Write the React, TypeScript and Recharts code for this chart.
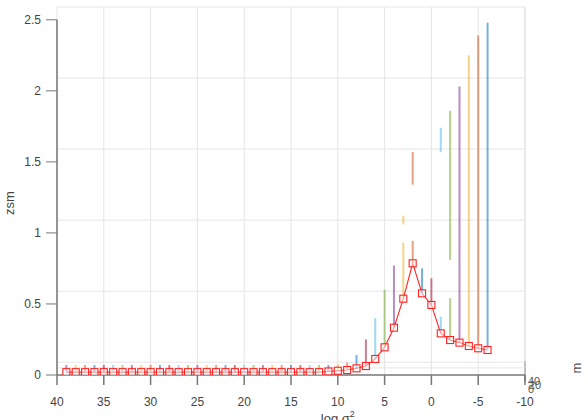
import {
  ComposedChart,
  Line,
  XAxis,
  YAxis,
  CartesianGrid,
  ReferenceLine,
  Customized,
  Label,
} from 'recharts';

// log sigma^2 positions, from 39 down to -6
const xValues = [
  39, 38, 37, 36, 35, 34, 33, 32, 31, 30, 29, 28, 27, 26, 25, 24, 23, 22, 21, 20,
  19, 18, 17, 16, 15, 14, 13, 12, 11, 10, 9, 8, 7, 6, 5, 4, 3, 2, 1, 0, -1, -2,
  -3, -4, -5, -6,
];

const zsm = [
  0.02, 0.02, 0.02, 0.02, 0.02, 0.02, 0.02, 0.02, 0.02, 0.02, 0.02, 0.02, 0.02,
  0.02, 0.02, 0.02, 0.02, 0.02, 0.02, 0.02, 0.02, 0.02, 0.02, 0.02, 0.02, 0.02,
  0.02, 0.02, 0.025, 0.03, 0.035, 0.047, 0.063, 0.113, 0.195, 0.333, 0.537,
  0.786, 0.575, 0.493, 0.293, 0.246, 0.228, 0.204, 0.188, 0.176,
];

// top of the stem that rises from each marker
const stemTop = [
  0.07, 0.07, 0.07, 0.07, 0.07, 0.07, 0.07, 0.07, 0.07, 0.07, 0.07, 0.07, 0.07,
  0.07, 0.07, 0.07, 0.07, 0.07, 0.07, 0.07, 0.07, 0.07, 0.07, 0.07, 0.07, 0.07,
  0.07, 0.07, 0.07, 0.075, 0.087, 0.14, 0.25, 0.4, 0.6, 0.77, 0.93, 0.944, 0.75,
  0.68, 0.41, 0.54, 2.03, 2.25, 2.39, 2.48,
];

// detached upper pieces of some stems
const pieceX = [3, 2, -1, -2];
const pieceLow = [1.06, 1.34, 1.57, 0.81];
const pieceHigh = [1.12, 1.57, 1.74, 1.86];

const xTicks = [40, 35, 30, 25, 20, 15, 10, 5, 0, -5, -10];
const yTicks = [0, 0.5, 1, 1.5, 2, 2.5];
const backGrid = [0.05, 0.09, 0.59, 1.09, 1.59, 2.09];
const zTicks = ['40', '20', '0'];

const colors = ['#0072BD', '#D95319', '#EDB120', '#7E2F8E', '#77AC30', '#4DBEEE', '#A2142F'];
const colorFor = (x: number) => colors[(((x + 6) % 7) + 7) % 7];

const font = 'Liberation Sans, Arial, sans-serif';

const rows = xValues.map((x, i) => ({ x, zsm: zsm[i] }));

const SquareDot = (props: any) => {
  const { cx, cy } = props;
  if (cx == null || cy == null) return null;
  return (
    <rect
      x={cx - 3.5}
      y={cy - 3.5}
      width={7}
      height={7}
      fill="#fff"
      fillOpacity={0.5}
      stroke="#f22"
      strokeWidth={1.1}
    />
  );
};

const ZAxisMarks = () => (
  <g fontFamily={font} fill="#555">
    <line x1={525} y1={361} x2={525} y2={381} stroke="#777" strokeWidth={1.5} />
    {zTicks.map((t, i) => (
      <text key={t} x={528 + (i === 1 ? 1 : 0)} y={385 + i * 4} fontSize={11}>
        {t}
      </text>
    ))}
    <text x={581} y={368} fontSize={13} textAnchor="middle" transform="rotate(-90 581 368)">
      m
    </text>
  </g>
);

export default function App() {
  return (
    <div style={{ position: 'absolute', left: 0, top: 0, background: '#fff' }}>
      <ComposedChart
        width={588}
        height={420}
        data={rows}
        margin={{ top: 7, right: 63, bottom: 0, left: 0 }}
      >
        <CartesianGrid horizontal={false} stroke="#e4e4e4" />
        {backGrid.map((v) => (
          <ReferenceLine key={'h' + v} y={v} stroke="#e6e6e6" />
        ))}
        <ReferenceLine y={2.59} stroke="#e6e6e6" />
        <ReferenceLine x={-10} stroke="#e4e4e4" />
        <XAxis
          type="number"
          dataKey="x"
          domain={[-10, 40]}
          reversed
          ticks={xTicks}
          allowDataOverflow
          height={45}
          stroke="#777"
          strokeWidth={1.5}
          tickSize={10}
          tickMargin={12}
          tick={{ fill: '#444', fontSize: 12, fontFamily: font }}
        >
          <Label
            content={({ viewBox }: any) => (
              <text
                x={viewBox.x + viewBox.width * 0.6}
                y={viewBox.y + 48}
                textAnchor="middle"
                fontSize={13}
                fill="#444"
                fontFamily={font}
              >
                log σ<tspan dy={-6} fontSize={9}>2</tspan>
              </text>
            )}
          />
        </XAxis>
        <YAxis
          type="number"
          domain={[0, 2.59]}
          ticks={yTicks}
          allowDataOverflow
          width={57}
          axisLine={false}
          stroke="#777"
          tickSize={11}
          tickMargin={5}
          tick={{ fill: '#444', fontSize: 12, fontFamily: font }}
          label={{
            value: 'zsm',
            angle: -90,
            position: 'insideLeft',
            offset: 9,
            dy: 12,
            style: { fill: '#444', fontSize: 13, fontFamily: font, textAnchor: 'middle' },
          }}
        />
        <ReferenceLine
          segment={[
            { x: 40, y: 0 },
            { x: 40, y: 2.5 },
          ]}
          stroke="#777"
          strokeWidth={1.5}
        />
        {xValues.map((x, i) => (
          <ReferenceLine
            key={'s' + x}
            segment={[
              { x, y: zsm[i] },
              { x, y: stemTop[i] },
            ]}
            stroke={colorFor(x)}
            strokeOpacity={0.55}
            strokeWidth={2}
          />
        ))}
        {pieceX.map((x, i) => (
          <ReferenceLine
            key={'p' + x}
            segment={[
              { x, y: pieceLow[i] },
              { x, y: pieceHigh[i] },
            ]}
            stroke={colorFor(x)}
            strokeOpacity={0.55}
            strokeWidth={2}
          />
        ))}
        <Line
          type="linear"
          dataKey="zsm"
          stroke="#f22"
          strokeWidth={1.1}
          isAnimationActive={false}
          dot={(p: any) => <SquareDot key={'d' + p.index} {...p} />}
          activeDot={false}
        />
        <Customized component={<ZAxisMarks />} />
      </ComposedChart>
    </div>
  );
}
